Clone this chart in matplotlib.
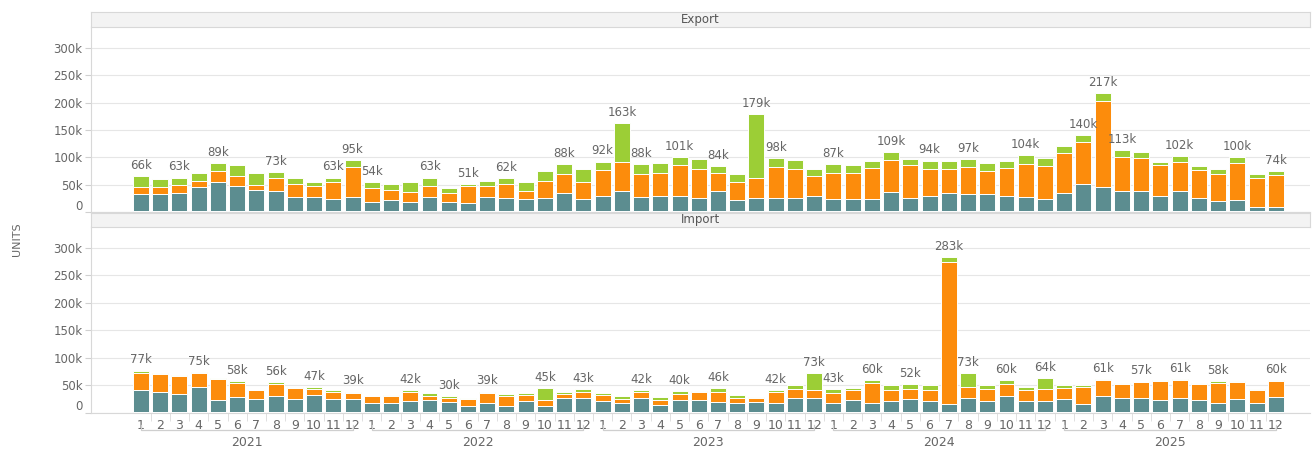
"""Monthly Export / Import units, stacked by segment, 2021-2025."""

import matplotlib

matplotlib.use("Agg")
import matplotlib.pyplot as plt
from matplotlib.transforms import ScaledTranslation, blended_transform_factory

YEARS = [2021, 2022, 2023, 2024, 2025]
MONTHS = list(range(1, 13))

# values in thousands of units, bottom to top
EXP_BASE = [2] * 60
EXP_TEAL = [30, 30, 32, 44, 52, 46, 38, 36, 26, 25, 21, 26,
            16, 20, 16, 26, 16, 15, 26, 23, 21, 23, 33, 21,
            28, 37, 26, 28, 28, 23, 37, 20, 23, 23, 23, 27,
            21, 21, 21, 34, 23, 28, 32, 30, 30, 28, 25, 22,
            32, 50, 44, 37, 37, 28, 37, 23, 19, 20, 8, 8]
EXP_ORANGE = [14, 14, 15, 11, 20, 17, 10, 24, 24, 21, 31, 54,
              25, 19, 19, 20, 17, 31, 20, 26, 16, 32, 34, 32,
              47, 52, 42, 41, 55, 54, 32, 33, 38, 58, 53, 36,
              49, 48, 57, 59, 60, 49, 44, 50, 42, 50, 61, 60,
              74, 75, 156, 62, 59, 56, 53, 52, 49, 68, 53, 57]
EXP_GREEN = [20, 15, 14, 14, 15, 20, 21, 11, 11, 6, 9, 13,
             11, 10, 17, 15, 8, 3, 9, 11, 16, 18, 19, 24,
             15, 72, 18, 18, 16, 17, 13, 15, 116, 15, 17, 14,
             15, 15, 13, 14, 12, 15, 15, 15, 15, 13, 16, 14,
             12, 13, 15, 12, 12, 6, 10, 7, 8, 10, 7, 7]
EXP_LABELS = [66, None, 63, None, 89, None, None, 73, None, None, 63, 95,
              54, None, None, 63, None, 51, None, 62, None, None, 88, None,
              92, 163, 88, None, 101, None, 84, None, 179, 98, None, None,
              87, None, None, 109, None, 94, None, 97, None, None, 104, None,
              None, 140, 217, 113, None, None, 102, None, None, 100, None, 74]

IMP_BASE = [1] * 60
IMP_TEAL = [40, 38, 33, 46, 23, 28, 25, 29, 25, 31, 25, 25,
            17, 17, 20, 23, 19, 12, 17, 11, 20, 11, 26, 26,
            20, 17, 26, 14, 22, 22, 19, 17, 19, 17, 27, 26,
            18, 23, 17, 20, 24, 21, 15, 26, 21, 30, 20, 20,
            24, 16, 29, 27, 27, 22, 27, 22, 17, 24, 17, 28]
IMP_ORANGE = [31, 32, 33, 26, 38, 26, 15, 22, 19, 12, 12, 10,
              12, 12, 17, 7, 8, 12, 18, 18, 11, 12, 7, 12,
              12, 8, 11, 9, 12, 16, 19, 9, 7, 20, 16, 14,
              17, 17, 37, 21, 19, 20, 259, 21, 22, 22, 20, 23,
              20, 30, 30, 25, 28, 36, 32, 30, 37, 31, 24, 29]
IMP_GREEN = [5, 1, 2, 2, 2, 3, 1, 4, 3, 3, 3, 3,
             1, 3, 4, 5, 2, 3, 3, 4, 4, 21, 4, 4,
             3, 4, 4, 5, 5, 1, 7, 5, 2, 4, 6, 32,
             7, 4, 5, 8, 8, 8, 8, 25, 6, 7, 7, 20,
             5, 3, 1, 2, 1, 1, 1, 2, 3, 2, 2, 2]
IMP_LABELS = [77, None, None, 75, None, 58, None, 56, None, 47, None, 39,
              None, None, 42, None, 30, None, 39, None, None, 45, None, 43,
              None, None, 42, None, 40, None, 46, None, None, 42, None, 73,
              43, None, 60, None, 52, None, 283, 73, None, 60, None, 64,
              None, None, 61, None, 57, None, 61, None, 58, None, None, 60]

COLORS = ["#E2572B", "#5C8D90", "#FC8C0C", "#9CCE36"]
TEXT = "#666666"
GRID = "#E6E6E6"


def draw_panel(ax, series, labels):
    x = list(range(len(series[0])))
    bottom = [0] * len(x)
    for values, color in zip(series, COLORS):
        ax.bar(x, [v * 1000 for v in values], bottom=bottom, width=0.83,
               color=color, edgecolor="white", linewidth=0.7, zorder=3)
        bottom = [b + v * 1000 for b, v in zip(bottom, values)]
    for i, lab in enumerate(labels):
        if lab is None:
            continue
        ax.annotate(f"{lab}k", (i, bottom[i]), xytext=(0, 3),
                    textcoords="offset points", ha="center", va="bottom",
                    fontsize=8.5, color=TEXT, zorder=4)

    ax.set_xlim(-2.6, 60.8)
    ax.set_ylim(0, 338000)
    ax.set_yticks([0, 50000, 100000, 150000, 200000, 250000, 300000])
    ax.set_yticklabels(["0", "50k", "100k", "150k", "200k", "250k", "300k"])
    ax.grid(axis="y", color=GRID, linewidth=0.8, zorder=0)
    ax.tick_params(axis="y", length=4, color="#D0D0D0", labelsize=8.5,
                   labelcolor=TEXT, pad=2)
    for side in ("top", "right"):
        ax.spines[side].set_visible(False)
    ax.spines["left"].set_color("#D8D8D8")
    ax.spines["bottom"].set_color("#D8D8D8")
    # the zero label sits a little above the baseline
    zero = ax.get_yticklabels()[0]
    zero.set_transform(zero.get_transform()
                       + ScaledTranslation(0, 0.075, ax.figure.dpi_scale_trans))


def add_strip(fig, rect, title):
    strip = fig.add_axes(rect, facecolor="#F3F3F3")
    strip.set_xticks([])
    strip.set_yticks([])
    for spine in strip.spines.values():
        spine.set_color("#D8D8D8")
    strip.text(0.5, 0.5, title, ha="center", va="center", fontsize=8.5,
               color="#555555", transform=strip.transAxes)


def main():
    fig = plt.figure(figsize=(13.13, 4.51), dpi=100)
    left, width = 91 / 1313, 1 - 91 / 1313 - 0.002

    ax_exp = fig.add_axes([left, 1 - 212 / 451, width, 185 / 451])
    ax_imp = fig.add_axes([left, 1 - 413 / 451, width, 186 / 451])
    add_strip(fig, [left, 1 - 27 / 451, width, 15 / 451], "Export")
    add_strip(fig, [left, 1 - 227 / 451, width, 14 / 451], "Import")

    draw_panel(ax_exp, [EXP_BASE, EXP_TEAL, EXP_ORANGE, EXP_GREEN], EXP_LABELS)
    draw_panel(ax_imp, [IMP_BASE, IMP_TEAL, IMP_ORANGE, IMP_GREEN], IMP_LABELS)

    ax_exp.set_xticks([])
    positions = list(range(len(YEARS) * 12))
    ax_imp.set_xticks(positions)
    ax_imp.set_xticklabels([str(m) for _ in YEARS for m in MONTHS])
    ax_imp.tick_params(axis="x", length=0, labelsize=9, labelcolor=TEXT, pad=4)
    ax_imp.set_xticks([p + 0.5 for p in positions[:-1]], minor=True)
    ax_imp.tick_params(axis="x", which="minor", length=6, color="#DADADA")

    trans = blended_transform_factory(ax_imp.transData, ax_imp.transAxes)
    y_line, y_end = -17 / 186, -12 / 186
    for k, year in enumerate(YEARS):
        x0, x1 = 12 * k, 12 * k + 11
        ax_imp.plot([x0, x0, x1, x1], [y_end, y_line, y_line, y_end],
                    transform=trans, color="#CFCFCF", linewidth=0.9,
                    clip_on=False)
        ax_imp.text((x0 + x1) / 2, -29 / 186, str(year), transform=trans,
                    ha="center", va="center", fontsize=9, color=TEXT)

    fig.text(0.013, 0.47, "UNITS", rotation=90, ha="center", va="center",
             fontsize=8, color=TEXT)

    fig.savefig("out.png", dpi=100)


if __name__ == "__main__":
    main()
